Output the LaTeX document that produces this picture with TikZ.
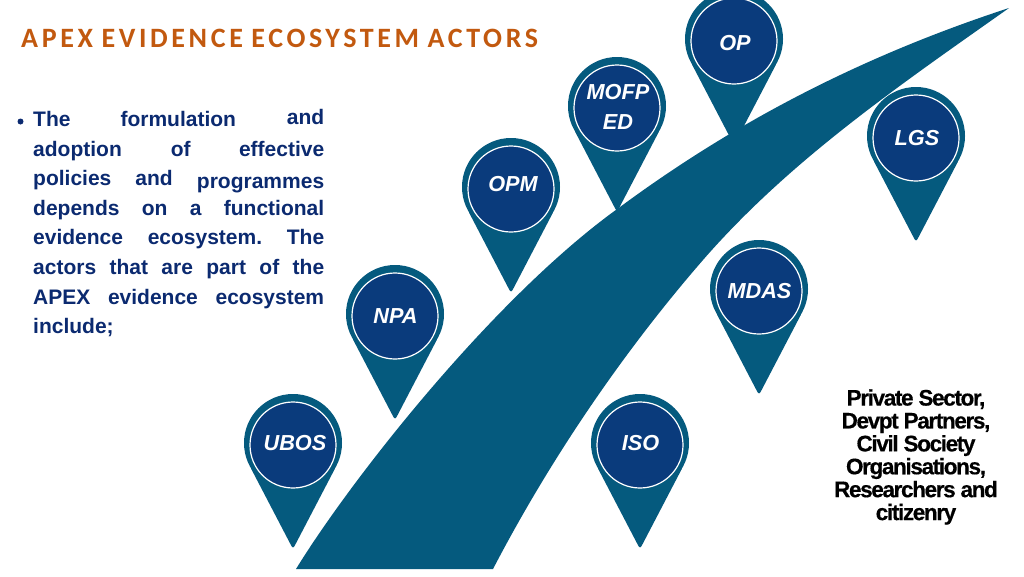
\documentclass[tikz,border=0pt]{standalone}
\usepackage{fontspec}
\usetikzlibrary{calc}
\setmainfont{Liberation Sans}
\newfontfamily\titlefont[LetterSpace=13,WordSpace=0.85]{Carlito}
\newfontfamily\tightfont[LetterSpace=-6,BoldFeatures={FakeBold=0.4}]{Liberation Sans}
\definecolor{pinteal}{HTML}{055A7E}
\definecolor{pinblue}{HTML}{0A3B7C}
\definecolor{bodynavy}{HTML}{0B2A70}
\definecolor{titleorange}{HTML}{C2590F}
\tikzset{
  x=1pt,y=-1pt,
  pinface/.style={circle,fill=pinblue,draw=white,line width=1.2pt,minimum size=86pt,inner sep=0pt},
  pinlabel/.style={inner sep=0pt,text=white,font=\bfseries\itshape\fontsize{21.7}{30}\selectfont,align=center},
}
\newcommand{\pinshape}[3]{% name, x, y
  \coordinate (#1c) at (#2,#3);
  \coordinate (#1tip) at (#2,#3+106);
  \fill[pinteal] (#1c) circle[radius=49pt];
  \fill[pinteal,rounded corners=3pt] ($(#1c)+(-43.3,23)$) -- (#1tip) -- ($(#1c)+(43.3,23)$) -- (#1c) -- cycle;
  \node[pinface] (#1) at ($(#1c)+(0,2)$) {};
}
\begin{document}
\begin{tikzpicture}
\useasboundingbox (0,0) rectangle (1024,576);
\clip (0,0) rectangle (1024,576);
\fill[white] (0,0) rectangle (1024,576);
\node[anchor=base west,inner sep=0pt,text=titleorange,font=\titlefont\bfseries\fontsize{28}{30}\selectfont] (title) at (21,47) {APEX EVIDENCE ECOSYSTEM ACTORS};
% pins
\pinshape{op}{734}{39}\pinshape{mof}{617}{106}\pinshape{opm}{511}{187}\pinshape{lgs}{916}{136}
\pinshape{mda}{759}{289}\pinshape{npa}{395}{314}\pinshape{iso}{640}{443}\pinshape{ubo}{293}{443}
\node[pinlabel] (oplabel) at (735,43) {OP};
\node[pinlabel] (moflabel) at (618,107) {MOFP\\ED};
\node[pinlabel] (opmlabel) at (513,184) {OPM};
\node[pinlabel] (lgslabel) at (917,138) {LGS};
\node[pinlabel] (mdalabel) at (759.5,291) {MDAS};
\node[pinlabel] (npalabel) at (395.5,316) {NPA};
\node[pinlabel] (isolabel) at (640.5,443) {ISO};
\node[pinlabel] (ubolabel) at (295,443) {UBOS};
% ribbon
\fill[pinteal] (296,569) .. controls (352,478) and (495,296) .. (620,207)
  .. controls (735,122) and (862,56) .. (1009,8)
  .. controls (900,85) and (790,160) .. (703,260)
  .. controls (630,344) and (555,450) .. (493,569) -- cycle;
% body text
\fill[bodynavy] (20.5,121.5) circle (3);
\node[anchor=north west,inner sep=0pt,text=bodynavy,font=\bfseries\fontsize{21}{29.6}\selectfont,text width=291pt] (body) at (33,109) {%
\hbox to 291pt{The\hspace{50pt}formulation\hfill\raisebox{2pt}{and}}\par
\hbox to 291pt{adoption\hspace{49pt}of\hfill effective}\par
\hbox to 291pt{policies\hspace{24pt}and\hfill\raisebox{-3pt}{programmes}}\par
\hbox to 291pt{depends\hfill on\hfill a\hfill functional}\par
\hbox to 291pt{evidence\hfill ecosystem.\hfill The}\par
\hbox to 291pt{actors\hfill that\hfill are\hfill part\hfill of\hfill the}\par
\hbox to 291pt{APEX\hfill evidence\hfill ecosystem}\par
\hbox to 291pt{include;\hfill}};
\node[inner sep=0pt,align=center,text=black,font=\tightfont\bfseries\fontsize{22.5}{22.9}\selectfont] (partners) at (916,457) {Private Sector,\\Devpt Partners,\\Civil Society\\Organisations,\\Researchers and\\citizenry};
\end{tikzpicture}
\end{document}
